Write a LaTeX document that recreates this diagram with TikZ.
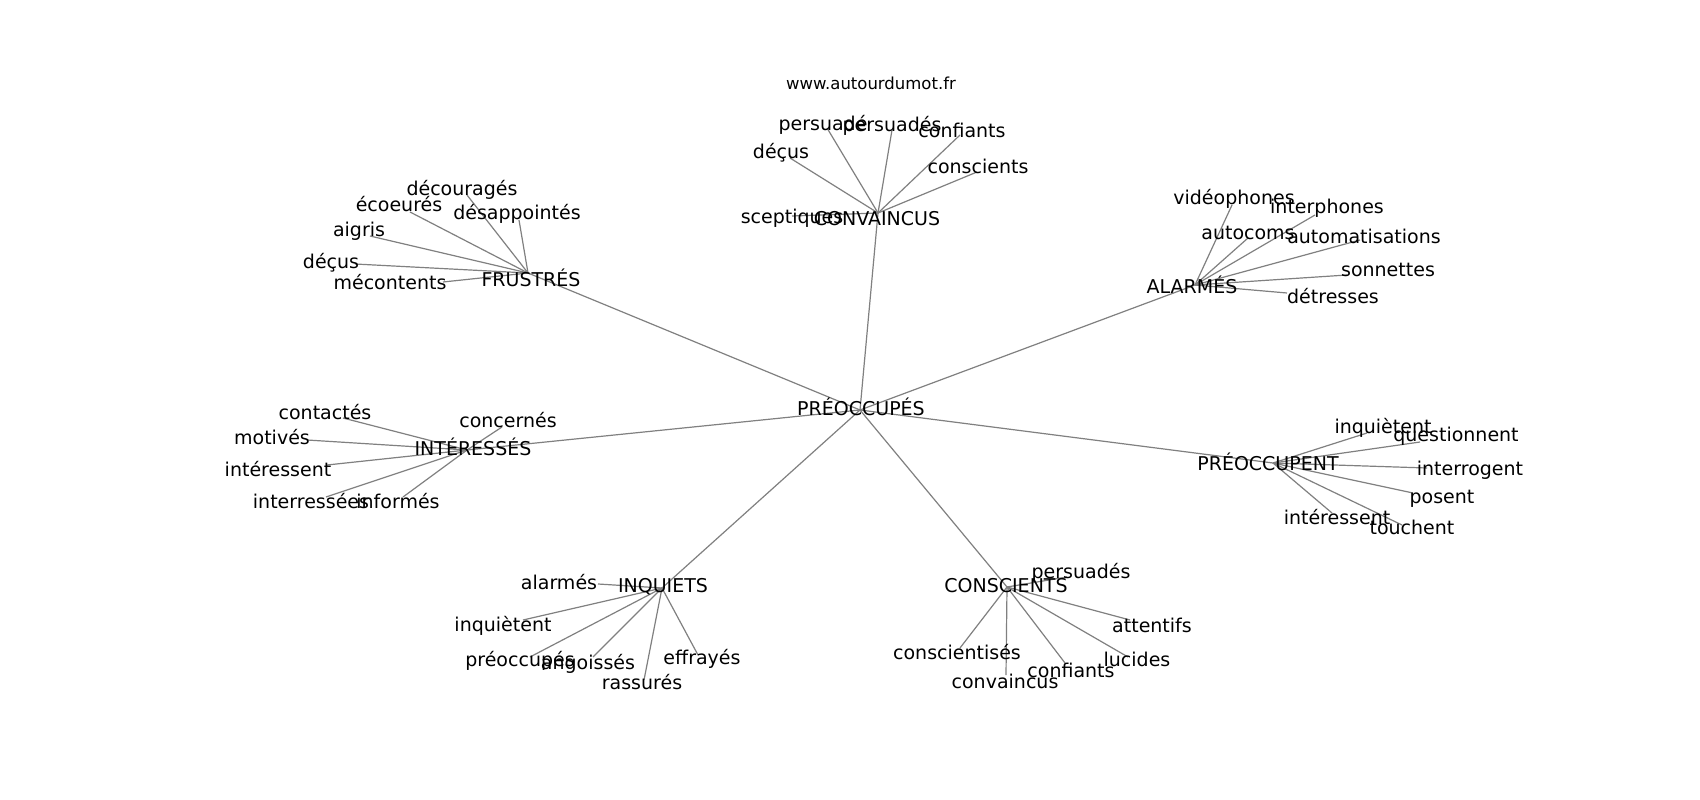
\documentclass[tikz,border=0pt]{standalone}
\usepackage{fontspec}
\setmainfont{DejaVu Sans}
\usetikzlibrary{backgrounds}

\tikzset{
  word/.style={font=\fontsize{19}{19}\selectfont, inner sep=0pt, text height=14pt, text depth=4.5pt, yshift=-2pt},
  link/.style={draw=gray, line width=1.2pt},
}

\begin{document}
\begin{tikzpicture}[x=1pt,y=-1pt]
\useasboundingbox (0,0) rectangle (1700,800);
\begin{pgfonlayer}{background}
  \fill[white] (0,0) rectangle (1700,800);
\end{pgfonlayer}

\node[font=\fontsize{16.5}{16.5}\selectfont, inner sep=0pt] (title) at (871,83) {www.autourdumot.fr};

% hubs: meeting point of the lines, then the word
\foreach \h/\px/\py/\tx/\ty/\w in {
  preoccupes/860/410/861/409/PRÉOCCUPÉS,
  convaincus/878/213/877/219/CONVAINCUS,
  frustres/528/273/531/280/FRUSTRÉS,
  alarmes/1195/285/1192/287/ALARMÉS,
  interesses/467/450/473/449/INTÉRESSÉS,
  preoccupent/1273/463/1268/464/PRÉOCCUPENT,
  inquiets/662/588/663/586/INQUIETS,
  conscients/1007/587/1006/586/CONSCIENTS}
{
  \coordinate (\h) at (\px,\py);
  \node[word] (\h-t) at (\tx,\ty) {\w};
}

\foreach \h in {convaincus,frustres,alarmes,interesses,preoccupent,inquiets,conscients}
{
  \begin{pgfonlayer}{background}
    \draw[link] (preoccupes) -- (\h);
  \end{pgfonlayer}
}

% leaves: hub/name/point/word position/word
\foreach \h/\n/\px/\py/\tx/\ty/\w in {
  convaincus/cv1/827/128/823/124/persuadé,
  convaincus/cv2/892/130/892/125/persuadés,
  convaincus/cv3/960/135/962/131/confiants,
  convaincus/cv4/977/172/978/167/conscients,
  convaincus/cv5/790/158/781/152/déçus,
  convaincus/cv6/792/216/792/217/sceptiques,
  frustres/fr1/467/195/462/189/découragés,
  frustres/fr2/410/212/399/205/écoeurés,
  frustres/fr3/519/220/517/213/désappointés,
  frustres/fr4/370/236/359/230/aigris,
  frustres/fr5/355/264/331/262/déçus,
  frustres/fr6/443/282/390/283/mécontents,
  alarmes/al1/1232/205/1234/198/vidéophones,
  alarmes/al2/1315/215/1327/207/interphones,
  alarmes/al3/1248/238/1248/233/autocoms,
  alarmes/al4/1360/240/1364/237/automatisations,
  alarmes/al5/1347/275/1388/270/sonnettes,
  alarmes/al6/1287/293/1333/297/détresses,
  interesses/in1/343/418/325/413/contactés,
  interesses/in2/307/440/272/438/motivés,
  interesses/in3/327/465/278/470/intéressent,
  interesses/in4/326/497/311/502/interressées,
  interesses/in5/403/497/398/502/informés,
  interesses/in6/502/427/508/421/concernés,
  preoccupent/pc1/1367/433/1383/427/inquiètent,
  preoccupent/pc2/1420/442/1456/435/questionnent,
  preoccupent/pc3/1427/468/1470/469/interrogent,
  preoccupent/pc4/1413/493/1442/497/posent,
  preoccupent/pc5/1402/525/1412/528/touchent,
  preoccupent/pc6/1332/513/1337/518/intéressent,
  inquiets/iq1/598/584/559/583/alarmés,
  inquiets/iq2/523/620/503/625/inquiètent,
  inquiets/iq3/530/657/520/660/préoccupés,
  inquiets/iq4/593/657/588/663/angoissés,
  inquiets/iq5/644/680/642/683/rassurés,
  inquiets/iq6/698/655/702/658/effrayés,
  conscients/cs1/1067/577/1081/572/persuadés,
  conscients/cs2/1130/620/1152/626/attentifs,
  conscients/cs3/960/648/957/653/conscientisés,
  conscients/cs4/1006/675/1005/682/convaincus,
  conscients/cs5/1065/663/1071/671/confiants,
  conscients/cs6/1128/657/1137/660/lucides}
{
  \coordinate (\n) at (\px,\py);
  \node[word] (\n-t) at (\tx,\ty) {\w};
  \begin{pgfonlayer}{background}
    \draw[link] (\h) -- (\n);
  \end{pgfonlayer}
}
\end{tikzpicture}
\end{document}
